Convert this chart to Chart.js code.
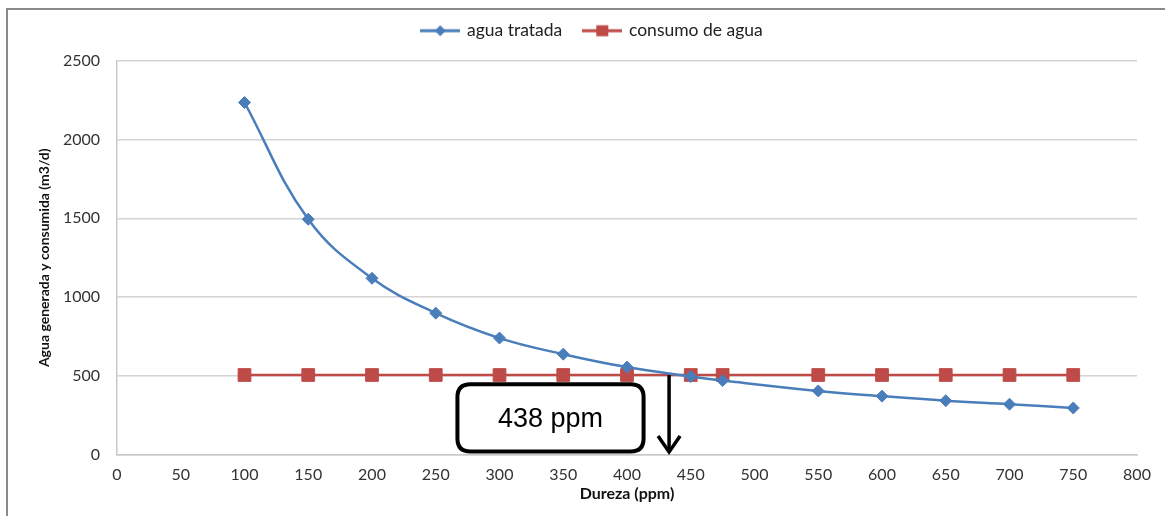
<!DOCTYPE html>
<html>
<head>
<meta charset="utf-8">
<script src="https://cdn.jsdelivr.net/npm/chart.js@4.4.1/dist/chart.umd.min.js"></script>
<style>
html,body{margin:0;padding:0;background:#fff;}
#wrap{width:1165px;height:516px;position:relative;}
</style>
</head>
<body>
<div id="wrap"><canvas id="c" width="1165" height="516"></canvas></div>
<script>
const DUREZA=[100,150,200,250,300,350,400,450,475,550,600,650,700,750];
const AGUA_TRATADA=[2234,1494,1120,899,741,639,557,497,472,406,373,344,322,298];
const CONSUMO=[507,507,507,507,507,507,507,507,507,507,507,507,507,507];
const X_MIN=0, X_MAX=800, X_STEP=50;
const Y_MIN=0, Y_MAX=2500, Y_STEP=500;
const CORTE_LABEL='438 ppm';
const CORTE_X=433;

const BLUE='#4a7ebb';
const RED='#be4b48';

function legendMarker(color,shape){
  const cv=document.createElement('canvas');
  cv.width=40;cv.height=14;
  const g=cv.getContext('2d');
  g.strokeStyle=color;g.lineWidth=3;
  g.beginPath();g.moveTo(0,7);g.lineTo(40,7);g.stroke();
  g.fillStyle=color;
  if(shape==='diamond'){
    g.beginPath();g.moveTo(20,1.5);g.lineTo(25.5,7);g.lineTo(20,12.5);g.lineTo(14.5,7);g.closePath();g.fill();
  }else{
    g.fillRect(14,1.5,12,11);
  }
  return cv;
}

// legend box: a bit more room underneath and nudged right, like the original
const legendTweak={
  id:'legendTweak',
  beforeUpdate(chart){
    const l=chart.legend;
    if(!l||l._patched) return;
    const fit=l.fit.bind(l);
    l.fit=function(){fit();this.height+=11;};
    l._patched=true;
  },
  afterLayout(chart){
    const l=chart.legend;
    if(!l) return;
    l.left+=24;l.right+=24;
  }
};

const frame={
  id:'frame',
  beforeDraw(chart){
    const ctx=chart.ctx;
    ctx.save();
    ctx.strokeStyle='#8a8a8a';
    ctx.lineWidth=2;
    ctx.strokeRect(7,9,1300,700);
    ctx.restore();
  }
};

function roundRect(ctx,x,y,w,h,r){
  ctx.beginPath();
  ctx.moveTo(x+r,y);
  ctx.lineTo(x+w-r,y);
  ctx.quadraticCurveTo(x+w,y,x+w,y+r);
  ctx.lineTo(x+w,y+h-r);
  ctx.quadraticCurveTo(x+w,y+h,x+w-r,y+h);
  ctx.lineTo(x+r,y+h);
  ctx.quadraticCurveTo(x,y+h,x,y+h-r);
  ctx.lineTo(x,y+r);
  ctx.quadraticCurveTo(x,y,x+r,y);
  ctx.closePath();
}

const corte={
  id:'corte',
  afterDatasetsDraw(chart){
    const {ctx,scales:{x,y}}=chart;
    ctx.save();
    const ax=x.getPixelForValue(CORTE_X);
    const top=y.getPixelForValue(CONSUMO[0]);
    const bot=y.getPixelForValue(Y_MIN)-3;
    ctx.strokeStyle='#000';
    ctx.lineWidth=3.5;
    ctx.beginPath();ctx.moveTo(ax,top);ctx.lineTo(ax,bot);ctx.stroke();
    ctx.beginPath();ctx.moveTo(ax-11,bot-16);ctx.lineTo(ax,bot);ctx.lineTo(ax+11,bot-16);ctx.stroke();
    const bx=x.getPixelForValue(267), bx2=x.getPixelForValue(413);
    const by=y.getPixelForValue(448), by2=y.getPixelForValue(22);
    ctx.fillStyle='#fff';
    ctx.lineWidth=4;
    roundRect(ctx,bx,by,bx2-bx,by2-by,13);
    ctx.fill();ctx.stroke();
    ctx.fillStyle='#000';
    ctx.font='27px "Liberation Sans", Arial, sans-serif';
    ctx.textAlign='center';ctx.textBaseline='middle';
    ctx.fillText(CORTE_LABEL,(bx+bx2)/2,(by+by2)/2+2);
    ctx.restore();
  }
};

const FONT='Lato, "Open Sans", sans-serif';

new Chart(document.getElementById('c').getContext('2d'),{
  type:'line',
  data:{
    datasets:[
      {
        label:'agua tratada',
        data:DUREZA.map((d,i)=>({x:d,y:AGUA_TRATADA[i]})),
        borderColor:BLUE,backgroundColor:BLUE,
        borderWidth:2.5,tension:0.4,
        pointStyle:'rectRot',pointRadius:6,pointHoverRadius:6,
        pointBackgroundColor:BLUE,pointBorderColor:BLUE,pointBorderWidth:1
      },
      {
        label:'consumo de agua',
        data:DUREZA.map((d,i)=>({x:d,y:CONSUMO[i]})),
        borderColor:RED,backgroundColor:RED,
        borderWidth:2.5,tension:0,
        pointStyle:'rect',pointRadius:9,pointHoverRadius:9,
        pointBackgroundColor:RED,pointBorderColor:RED,pointBorderWidth:1
      }
    ]
  },
  options:{
    responsive:false,
    animation:false,
    parsing:false,
    layout:{padding:{left:0,right:28,top:0,bottom:0}},
    plugins:{
      legend:{
        position:'top',
        labels:{
          usePointStyle:true,
          pointStyleWidth:36,
          padding:22,
          color:'#222',
          font:{family:FONT,size:17.5},
          generateLabels(chart){
            return [
              {text:'agua tratada',pointStyle:legendMarker(BLUE,'diamond'),datasetIndex:0,fontColor:'#222',lineWidth:0,strokeStyle:'transparent',fillStyle:BLUE},
              {text:'consumo de agua',pointStyle:legendMarker(RED,'square'),datasetIndex:1,fontColor:'#222',lineWidth:0,strokeStyle:'transparent',fillStyle:RED}
            ];
          }
        }
      },
      tooltip:{enabled:false}
    },
    scales:{
      x:{
        type:'linear',min:X_MIN,max:X_MAX,
        ticks:{stepSize:X_STEP,padding:10,color:'#333',font:{family:FONT,size:16},callback:v=>String(v)},
        grid:{display:false,drawTicks:false},
        border:{display:true,color:'#c8c8c8',width:1.5},
        title:{display:true,text:'Dureza (ppm)',color:'#111',font:{family:FONT,size:16,weight:'bold'},padding:{top:0,bottom:13}},
        afterFit(scale){scale.height=61;}
      },
      y:{
        type:'linear',min:Y_MIN,max:Y_MAX,
        ticks:{stepSize:Y_STEP,padding:17,color:'#333',font:{family:FONT,size:16},callback:v=>String(v)},
        grid:{color:'#d4d4d4',lineWidth:1.5,drawTicks:false},
        border:{display:true,color:'#c8c8c8',width:1.5},
        title:{display:true,text:'Agua generada y consumida (m3/d)',color:'#111',font:{family:FONT,size:14,weight:'bold'},padding:{top:36,bottom:0}},
        afterFit(scale){scale.width=117;}
      }
    }
  },
  plugins:[legendTweak,frame,corte]
});
</script>
</body>
</html>
